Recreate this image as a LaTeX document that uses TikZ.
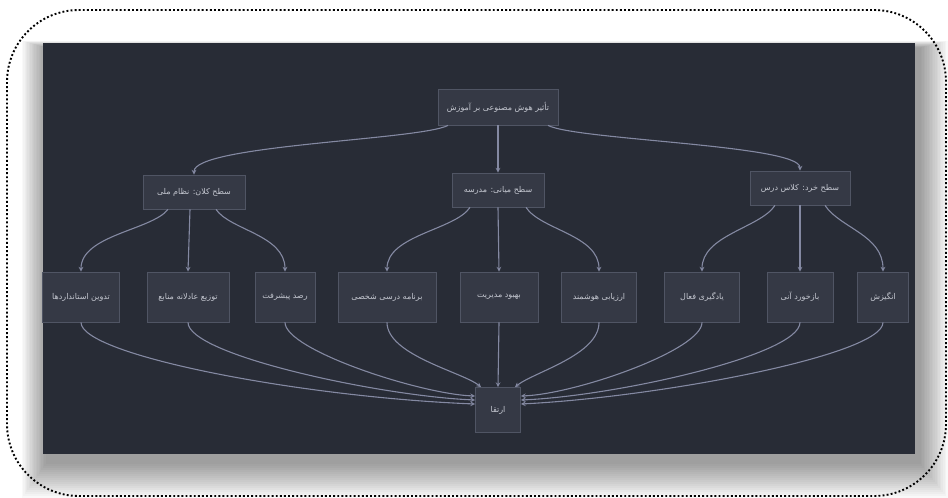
\documentclass[tikz,border=0pt]{standalone}
\usepackage{fontspec}
\usepackage{tikz}
\usetikzlibrary{arrows, positioning}
\newfontfamily\arabicfont[Script=Arabic]{DejaVu Sans}
\TeXXeTstate=1
\tikzset{>=stealth}
\definecolor{panel}{RGB}{40,44,54}
\definecolor{boxfill}{RGB}{53,57,69}
\definecolor{boxline}{RGB}{80,85,100}
\definecolor{boxtext}{RGB}{196,199,208}
\definecolor{edgecol}{RGB}{132,137,162}
\tikzset{
  box/.style={draw=boxline, fill=boxfill, text=boxtext, font=\arabicfont\fontsize{8}{10}\selectfont, inner sep=2pt, line width=0.8pt},
  edge/.style={->, draw=edgecol, line width=1.1pt},
}
\newcommand{\fa}[1]{\beginR #1\endR}

\begin{document}
\begin{tikzpicture}[x=1pt, y=-1pt]
\useasboundingbox (0,0) rectangle (948,498);
\fill[white](0,0) rectangle (948,498);
% soft shadow under the panel
\foreach \i in {1,...,18}
  \fill[black, opacity=0.025] (47-\i*1.4,48-\i*0.4) rectangle (919+\i*1.6,462+\i*2);
\fill[panel](43,43) rectangle (915,454);
\draw[line width=1.9pt, dash pattern=on 1.9pt off 2.2pt, rounded corners=72pt](7,10) rectangle (946,496);

% nodes
\node[box, minimum width=120pt, minimum height=36pt] (root) at (498,107) {\fa{تأثیر هوش مصنوعی بر آموزش}};
\node[box, minimum width=102pt, minimum height=34pt] (macro) at (194,192) {\fa{سطح کلان: نظام ملی}};
\node[box, minimum width=92pt, minimum height=34pt] (meso) at (498,190) {\fa{سطح میانی: مدرسه}};
\node[box, minimum width=100pt, minimum height=34pt] (micro) at (800,188) {\fa{سطح خرد: کلاس درس}};
\node[box, minimum width=77pt, minimum height=50pt] (l1) at (81,297) {\fa{تدوین استانداردها}};
\node[box, minimum width=82pt, minimum height=50pt] (l2) at (188,297) {\fa{توزیع عادلانه منابع}};
\node[box, minimum width=60pt, minimum height=50pt] (l3) at (285,297) {\fa{رصد پیشرفت}};
\node[box, minimum width=98pt, minimum height=50pt] (l4) at (387,297) {\fa{برنامه درسی شخصی}};
\node[box, minimum width=78pt, minimum height=50pt] (l5) at (499,297) {\fa{بهبود مدیریت}};
\node[box, minimum width=75pt, minimum height=50pt] (l6) at (599,297) {\fa{ارزیابی هوشمند}};
\node[box, minimum width=75pt, minimum height=50pt] (l7) at (702,297) {\fa{یادگیری فعال}};
\node[box, minimum width=66pt, minimum height=50pt] (l8) at (800,297) {\fa{بازخورد آنی}};
\node[box, minimum width=51pt, minimum height=50pt] (l9) at (883,297) {\fa{انگیزش}};
\node[box, minimum width=45pt, minimum height=45pt] (goal) at (498,410) {\fa{ارتقا}};

% root to levels
\draw[edge]([xshift=-50pt]root.south) .. controls (420,140) and (194,145) .. (macro.north);
\draw[edge](root.south)--(meso.north);
\draw[edge]([xshift=50pt]root.south) .. controls (576,140) and (800,145) .. (micro.north);

% levels to leaves
\draw[edge]([xshift=-26pt]macro.south) .. controls (152,230) and (81,235) .. (l1.north);
\draw[edge]([xshift=-4pt]macro.south)--(l2.north);
\draw[edge]([xshift=22pt]macro.south) .. controls (230,230) and (285,235) .. (l3.north);
\draw[edge]([xshift=-28pt]meso.south) .. controls (455,230) and (387,235) .. (l4.north);
\draw[edge](meso.south)--(l5.north);
\draw[edge]([xshift=28pt]meso.south) .. controls (541,230) and (599,235) .. (l6.north);
\draw[edge]([xshift=-25pt]micro.south) .. controls (760,228) and (702,235) .. (l7.north);
\draw[edge](micro.south)--(l8.north);
\draw[edge]([xshift=25pt]micro.south) .. controls (840,228) and (883,235) .. (l9.north);

% leaves to goal
\draw[edge](l1.south) .. controls (81,355) and (300,397) .. ([yshift=6pt]goal.west);
\draw[edge](l2.south) .. controls (188,355) and (380,396) .. ([yshift=10pt]goal.west);
\draw[edge](l3.south) .. controls (285,350) and (420,394) .. ([yshift=14pt]goal.west);
\draw[edge](l4.south) .. controls (387,355) and (462,372) .. ([xshift=6pt]goal.north west);
\draw[edge](l5.south)--(goal.north);
\draw[edge](l6.south) .. controls (599,355) and (534,372) .. ([xshift=-6pt]goal.north east);
\draw[edge](l7.south) .. controls (702,350) and (576,394) .. ([yshift=14pt]goal.east);
\draw[edge](l8.south) .. controls (800,355) and (616,396) .. ([yshift=10pt]goal.east);
\draw[edge](l9.south) .. controls (883,355) and (660,397) .. ([yshift=6pt]goal.east);
\end{tikzpicture}
\end{document}
